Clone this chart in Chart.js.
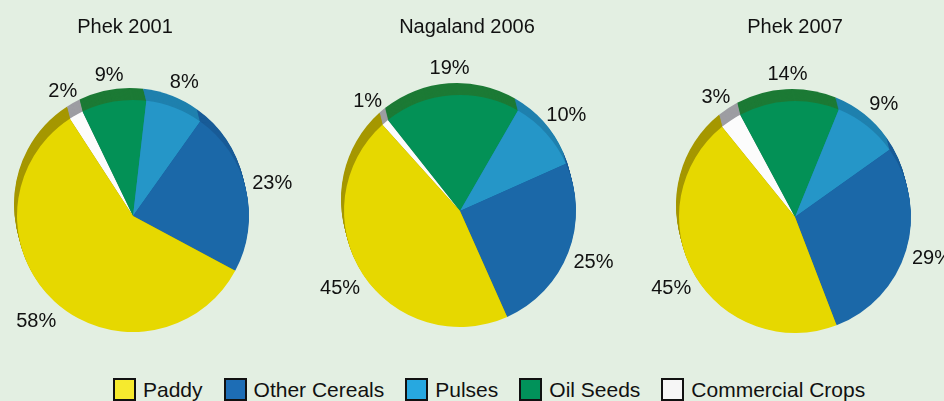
<!DOCTYPE html>
<html>
<head>
<meta charset="utf-8">
<script src="https://cdn.jsdelivr.net/npm/chart.js@4.4.0/dist/chart.umd.min.js"></script>
<style>
  html, body { margin: 0; padding: 0; width: 944px; height: 401px; overflow: hidden; background: #e3efe2; font-family: "Liberation Sans", Arial, sans-serif; }
  .pie { position: absolute; top: 0; }
  #legend { position: absolute; left: 113px; top: 378px; display: flex; align-items: center; font-size: 21px; color: #111; line-height: 23px; white-space: nowrap; }
  .item { display: flex; align-items: center; margin-right: 21px; }
  .box { width: 19px; height: 19px; border: 2px solid #111; margin-right: 7px; }
</style>
</head>
<body>
<canvas class="pie" id="pie0" width="360" height="370"></canvas>
<canvas class="pie" id="pie1" width="360" height="370"></canvas>
<canvas class="pie" id="pie2" width="360" height="370"></canvas>
<div id="legend"></div>
<script>
// crops in legend order
var cropLabels = ["Paddy", "Other Cereals", "Pulses", "Oil Seeds", "Commercial Crops"];
var chartTitles = ["Phek 2001", "Nagaland 2006", "Phek 2007"];

// percentage shares
var phek2001 = [58, 23, 8, 9, 2];
var nagaland2006 = [45, 25, 10, 19, 1];
var phek2007 = [45, 29, 9, 14, 3];
var allValues = [phek2001, nagaland2006, phek2007];

// colours
var faceColors = ["#e6d800", "#1b68a8", "#2596c8", "#039156", "#fcfcfc"];
var rimColors = ["#a59700", "#185b97", "#1f80ae", "#1c7a35", "#9d9da2"];
var legendColors = ["#f6ea2e", "#1d6db5", "#27a8e0", "#01925a", "#f6f6f6"];

// layout: title centre x, pie centre x / y, start angle
var titleX = [125, 467, 795];
var pieX = [133, 460, 795];
var pieY = [216, 211, 217];
var rotations = [-33, -42, -39];
var pieRadius = 116;

var fontFamily = '"Liberation Sans", Arial, sans-serif';

function makeRim(colors) {
  return {
    id: "rim",
    beforeDatasetsDraw: function (chart) {
      var ctx = chart.ctx;
      var meta = chart.getDatasetMeta(0);
      ctx.save();
      for (var s = 12; s >= 1; s--) {
        var ox = -3 * s / 12, oy = -12 * s / 12;
        meta.data.forEach(function (arc, i) {
          var p = arc.getProps(["x", "y", "startAngle", "endAngle", "outerRadius"], true);
          ctx.beginPath();
          ctx.moveTo(p.x + ox, p.y + oy);
          ctx.arc(p.x + ox, p.y + oy, p.outerRadius, p.startAngle, p.endAngle);
          ctx.closePath();
          ctx.fillStyle = colors[i];
          ctx.fill();
        });
      }
      ctx.restore();
    }
  };
}

var pctLabels = {
  id: "pctLabels",
  afterDatasetsDraw: function (chart) {
    var ctx = chart.ctx;
    var meta = chart.getDatasetMeta(0);
    var values = chart.data.datasets[0].data;
    ctx.save();
    ctx.font = "20px " + fontFamily;
    ctx.fillStyle = "#111";
    ctx.textAlign = "center";
    ctx.textBaseline = "middle";
    meta.data.forEach(function (arc, i) {
      var p = arc.getProps(["x", "y", "startAngle", "endAngle", "outerRadius"], true);
      var mid = (p.startAngle + p.endAngle) / 2;
      var d = p.outerRadius + 27;
      ctx.fillText(values[i] + "%", p.x + Math.cos(mid) * d, p.y + Math.sin(mid) * d);
    });
    ctx.restore();
  }
};

// title drawn at canvas centre (the built-in one follows the pie centre)
var pieTitle = {
  id: "pieTitle",
  afterDraw: function (chart, args, opts) {
    var ctx = chart.ctx;
    ctx.save();
    ctx.font = "20px " + fontFamily;
    ctx.fillStyle = "#111";
    ctx.textAlign = "center";
    ctx.textBaseline = "middle";
    ctx.fillText(opts.text, chart.width / 2, 27);
    ctx.restore();
  }
};

for (var k = 0; k < 3; k++) {
  var canvas = document.getElementById("pie" + k);
  canvas.style.left = (titleX[k] - 180) + "px";
  var shift = 2 * (pieX[k] - titleX[k]);
  var topPad = 69;
  var bottomPad = 370 - (2 * pieY[k] - topPad);

  // the picture runs counter-clockwise in legend order, Chart.js goes clockwise
  var values = allValues[k].slice().reverse();

  new Chart(canvas.getContext("2d"), {
    type: "pie",
    data: {
      labels: cropLabels.slice().reverse(),
      datasets: [{
        data: values,
        backgroundColor: faceColors.slice().reverse(),
        borderWidth: 0
      }]
    },
    options: {
      responsive: false,
      animation: false,
      rotation: rotations[k],
      radius: pieRadius,
      layout: {
        padding: {
          left: 10 + Math.max(0, shift),
          right: 10 + Math.max(0, -shift),
          top: topPad,
          bottom: bottomPad
        }
      },
      plugins: {
        legend: { display: false },
        tooltip: { enabled: false },
        title: { display: false },
        pieTitle: { text: chartTitles[k] }
      }
    },
    plugins: [makeRim(rimColors.slice().reverse()), pctLabels, pieTitle]
  });
}

// legend
var legend = document.getElementById("legend");
cropLabels.forEach(function (name, i) {
  var item = document.createElement("div");
  item.className = "item";
  var box = document.createElement("div");
  box.className = "box";
  box.style.background = legendColors[i];
  var text = document.createElement("span");
  text.textContent = name;
  item.appendChild(box);
  item.appendChild(text);
  legend.appendChild(item);
});
</script>
</body>
</html>
